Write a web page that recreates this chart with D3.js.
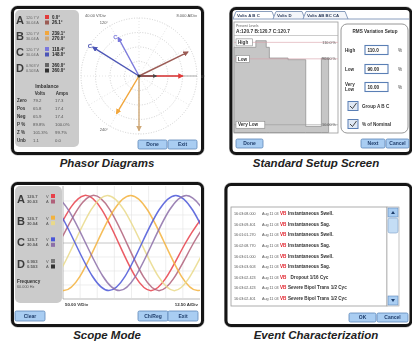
<!DOCTYPE html>
<html><head><meta charset="utf-8">
<script src="https://cdn.jsdelivr.net/npm/d3@7"></script>
<style>body{margin:0;background:#fff}svg{display:block}text{font-family:"Liberation Sans",Arial,sans-serif}</style>
</head><body><svg id="c" width="412" height="342"></svg>
<script>
// ---------- DATA ----------
const panelTitles = ["Phasor Diagrams","Standard Setup Screen","Scope Mode","Event Characterization"];

// Phasor screen
const phasorChannels = ["A","B","C","D"];
const phasorVolts = [120.7,120.7,120.7,0.903];
const phasorAmps = [30.04,30.04,30.04,0.503];
const phasorVoltAngles = [0.0,239.1,118.4,360.0];
const phasorAmpAngles = [26.1,270.0,148.0,360.0];
const voltColors = ["#e23a3a","#f2a63a","#7a78dc","#666"];
const ampColors = ["#9b5b55","#cfa877","#4c55b6","#333"];
const polarRingVolts = [40,80,120,160];
const polarAngleLabels = [0,120,240];
const phasorScaleText = ["40.00 V/Div","8.000 A/Div"];
const imbalanceRows = ["Zero","Pos","Neg","P %","Z %","Unb"];
const imbalanceVolts = ["79.2","65.8","65.9","89.8%","101.3%","1.1"];
const imbalanceAmps = ["17.3","17.4","17.4","100.0%","99.7%","0.0"];

// Setup screen
const setupTabs = ["Volts A B C","Volts D","Volts AB BC CA"];
const presentLevels = "A:120.7  B:120.7  C:120.7";
const profileTime = [0,21,31,34,52,69,84,91];
const profileLevel = [104,112,104,91,89,8,91,91];
const limitNames = ["High","Low","Very Low"];
const limitValues = [110.0,90.00,10.00];
const limitTexts = ["110.0 %","90.00 %","10.00 %"];
const limitInputs = ["110.0","90.00","10.00"];
const checkLabels = ["Group A B C","% of Nominal"];

// Scope screen (key points: zero crossings and peaks)
const scopeNames = ["VA","IA","VB","IB","VC","IC"];
const scopeColors = ["#e8404a","#b0607a","#f3b23c","#e9d98a","#4a56d8","#8c6fa8"];
const scopeUnits = ["V","A","V","A","V","A"];
const scopeTimes = [
  [-5.6,-1.5,2.7,6.9,11.0,15.2,19.4],
  [-4.6,-0.5,3.7,7.9,12.0,16.2,20.4],
  [-4.1,0.1,4.2,8.4,12.6,16.7,20.9],
  [-7.0,-2.8,1.4,5.5,9.7,13.9,18.0,22.2],
  [-6.9,-2.7,1.5,5.7,9.8,14.0,18.2],
  [-5.6,-1.4,2.8,7.0,11.1,15.3,19.5]
];
const scopeValues = [
  [-170,0,170,0,-170,0,170],
  [-42.5,0,42.5,0,-42.5,0,42.5],
  [0,-170,0,170,0,-170,0],
  [0,-42.5,0,42.5,0,-42.5,0,42.5],
  [0,170,0,-170,0,170,0],
  [0,42.5,0,-42.5,0,42.5,0]
];
const scopeChannels = ["A","B","C","D"];
const scopeVolts = ["120.7","120.7","120.7","0.903"];
const scopeAmps = ["30.03","30.04","30.04","0.503"];
const scopeScaleText = ["50.00 V/Div","12.50 A/Div"];
const frequencyText = "60.000 Hz";

// Event screen
const eventTimes = ["16:03:08.000","16:03:09.401","16:01:01.270","16:02:08.770","16:03:01.000","16:03:03.603","16:03:02.423","16:03:02.423","16:03:02.401"];
const eventDates = ["Aug 11 03","Aug 11 03","Aug 11 03","Aug 11 03","Aug 11 03","Aug 11 03","Aug 11 03","Aug 11 03","Aug 11 03"];
const eventChannels = ["VB","VB","VB","VB","VB","VB","VB","VB","VB"];
const eventTypes = ["Instantaneous Swell.","Instantaneous Sag.","Instantaneous Swell.","Instantaneous Sag.","Instantaneous Swell.","Instantaneous Sag.","  Dropout 1/16 Cyc","Severe Bipol Trans 1/2 Cyc","Severe Bipol Trans 1/2 Cyc"];

// ---------- DRAW ----------
const svg = d3.select("#c");
const defs = svg.append("defs");
defs.append("filter").attr("id","soft").attr("x","-5%").attr("y","-5%").attr("width","110%").attr("height","110%")
  .append("feGaussianBlur").attr("stdDeviation",0.3);

function frame(x,y,w,h){
  svg.append("rect").attr("x",x-1.5).attr("y",y-1.5).attr("width",w+3).attr("height",h+3)
    .attr("rx",6).attr("fill","none").attr("stroke","#bdbdbd").attr("stroke-width",1);
  svg.append("rect").attr("x",x).attr("y",y).attr("width",w).attr("height",h)
    .attr("rx",5).attr("fill","#fff").attr("stroke","#151515").attr("stroke-width",3);
}
function button(g,x,y,w,h,label){
  g.append("rect").attr("x",x).attr("y",y).attr("width",w).attr("height",h).attr("rx",1.5)
    .attr("fill","#a9cdf2").attr("stroke","#5d86b8").attr("stroke-width",0.8);
  g.append("text").attr("x",x+w/2).attr("y",y+h/2+1.8).attr("text-anchor","middle")
    .attr("font-size",5).attr("font-weight","bold").attr("fill","#1f3d6b").text(label);
}
function title(x,y,t){
  svg.append("text").attr("x",x).attr("y",y).attr("text-anchor","middle")
    .attr("font-size",11.5).attr("font-weight","bold").attr("font-style","italic")
    .attr("fill","#222").text(t);
}

// ===== Panel 1: Phasor =====
frame(12.5,7.5,190,146);
const p1 = svg.append("g").attr("filter","url(#soft)");
p1.append("rect").attr("x",15).attr("y",10).attr("width",64).attr("height",137).attr("rx",5).attr("fill","#cbcbcb");
const rowY = d3.scalePoint().domain(phasorChannels).range([20,68]);
phasorChannels.forEach((ch,i)=>{
  const y = rowY(ch);
  p1.append("text").attr("x",16).attr("y",y+4).attr("font-size",11).attr("font-weight","bold").attr("fill","#3a3a3a").text(ch);
  p1.append("text").attr("x",26).attr("y",y-1).attr("font-size",3.8).attr("fill","#666").text(phasorVolts[i]+" V");
  p1.append("text").attr("x",26).attr("y",y+4).attr("font-size",3.8).attr("fill","#666").text(phasorAmps[i]+" A");
  p1.append("rect").attr("x",45).attr("y",y-5).attr("width",4).attr("height",4).attr("fill",voltColors[i]);
  p1.append("rect").attr("x",45).attr("y",y+0.5).attr("width",4).attr("height",4).attr("fill",ampColors[i]);
  p1.append("text").attr("x",52).attr("y",y-1).attr("font-size",4.5).attr("font-weight","bold").attr("fill","#222").text(phasorVoltAngles[i].toFixed(1)+"°");
  p1.append("text").attr("x",52).attr("y",y+4).attr("font-size",4.5).attr("font-weight","bold").attr("fill","#222").text(phasorAmpAngles[i].toFixed(1)+"°");
});
p1.append("text").attr("x",47).attr("y",88).attr("text-anchor","middle").attr("font-size",4.8).attr("font-weight","bold").attr("fill","#333").text("Imbalance");
p1.append("text").attr("x",40).attr("y",95).attr("text-anchor","middle").attr("font-size",4.5).attr("font-weight","bold").attr("fill","#333").text("Volts");
p1.append("text").attr("x",62).attr("y",95).attr("text-anchor","middle").attr("font-size",4.5).attr("font-weight","bold").attr("fill","#333").text("Amps");
const imbY = d3.scalePoint().domain(imbalanceRows).range([102,142]);
imbalanceRows.forEach((r,i)=>{
  const y = imbY(r);
  p1.append("text").attr("x",17).attr("y",y).attr("font-size",4.5).attr("font-weight","bold").attr("fill","#333").text(r);
  p1.append("text").attr("x",33).attr("y",y).attr("font-size",4.3).attr("fill","#555").text(imbalanceVolts[i]);
  p1.append("text").attr("x",55).attr("y",y).attr("font-size",4.3).attr("fill","#555").text(imbalanceAmps[i]);
});
// polar
const cx=139, cy=76;
const rV = d3.scaleLinear().domain([0,160]).range([0,58]);
const rA = d3.scaleLinear().domain([0,32]).range([0,58]);
polarRingVolts.forEach(v=>{
  p1.append("circle").attr("cx",cx).attr("cy",cy).attr("r",rV(v)).attr("fill","none")
    .attr("stroke","#c4c4c4").attr("stroke-width",0.8).attr("stroke-dasharray","1,1.6");
});
d3.range(0,360,30).forEach(a=>{
  const t=a*Math.PI/180;
  p1.append("line").attr("x1",cx).attr("y1",cy).attr("x2",cx+rV(160)*Math.cos(t)).attr("y2",cy-rV(160)*Math.sin(t))
    .attr("stroke","#d4d4d4").attr("stroke-width",0.6).attr("stroke-dasharray","1,2");
});
polarAngleLabels.forEach(a=>{
  const t=a*Math.PI/180, r=rV(160)+4;
  p1.append("text").attr("x",cx+r*Math.cos(t)).attr("y",cy-r*Math.sin(t)+1.5)
    .attr("text-anchor",a===0?"start":"end").attr("font-size",4).attr("fill","#555").text(a+"°");
});
p1.append("text").attr("x",85).attr("y",17).attr("font-size",4).attr("fill","#555").text(phasorScaleText[0]);
p1.append("text").attr("x",197).attr("y",17).attr("text-anchor","end").attr("font-size",4).attr("fill","#555").text(phasorScaleText[1]);
function arrowMarker(id,color){
  defs.append("marker").attr("id",id).attr("viewBox","0 0 10 10").attr("refX",8).attr("refY",5)
    .attr("markerWidth",4).attr("markerHeight",4).attr("orient","auto")
    .append("path").attr("d","M0,0L10,5L0,10z").attr("fill",color);
}
function vector(r,angle,color,id,label){
  arrowMarker(id,color);
  const t=angle*Math.PI/180;
  const x2=cx+r*Math.cos(t), y2=cy-r*Math.sin(t);
  p1.append("line").attr("x1",cx).attr("y1",cy).attr("x2",x2).attr("y2",y2)
    .attr("stroke",color).attr("stroke-width",1.4).attr("marker-end",`url(#${id})`);
  if(label){
    p1.append("text").attr("x",x2+ (Math.cos(t)<0?-5:3)).attr("y",y2+1).attr("font-size",6).attr("font-weight","bold").attr("fill",color).text(label);
  }
}
p1.append("line").attr("x1",cx).attr("y1",cy).attr("x2",cx+rV(160)).attr("y2",cy).attr("stroke","#888").attr("stroke-width",0.7);
phasorChannels.forEach((ch,i)=>{
  if(ch==="D") return;
  vector(rV(phasorVolts[i]),phasorVoltAngles[i],voltColors[i],"mv"+i, ch==="C"?ch:null);
  vector(rA(phasorAmps[i]),phasorAmpAngles[i],ampColors[i],"ma"+i, ch==="C"?ch:null);
});
arrowMarker("md","#444");
p1.append("line").attr("x1",cx).attr("y1",cy).attr("x2",cx+rV(48)).attr("y2",cy).attr("stroke","#444").attr("stroke-width",1).attr("marker-end","url(#md)");
p1.append("circle").attr("cx",cx).attr("cy",cy).attr("r",1.6).attr("fill","#333");
button(p1,138,140,29,9,"Done");
button(p1,168,140,29,9,"Exit");
title(107,167,panelTitles[0]);

// ===== Panel 2: Setup =====
frame(231,8.5,180,145);
const p2 = svg.append("g").attr("filter","url(#soft)");
let tx=233;
const tabW=[40,30,43];
setupTabs.forEach((t,i)=>{
  const x0=tx, x1=tx+tabW[i];
  p2.append("path").attr("d",`M${x0},19L${x0+3},11.5L${x1-1},11.5L${x1+2},19`).attr("fill",i===0?"#fff":"#f4f6fa")
    .attr("stroke","#6d86ad").attr("stroke-width",0.8);
  p2.append("text").attr("x",x0+4).attr("y",17).attr("font-size",4.3).attr("font-weight","bold").attr("fill","#2a3a5a").text(t);
  tx=x1;
});
p2.append("line").attr("x1",233).attr("x2",409).attr("y1",19).attr("y2",19).attr("stroke","#6d86ad").attr("stroke-width",0.8);
p2.append("rect").attr("x",234).attr("y",22).attr("width",104).attr("height",111).attr("fill","#fff").attr("stroke","#999").attr("stroke-width",0.8);
p2.append("text").attr("x",236).attr("y",27).attr("font-size",3.4).attr("fill","#666").text("Present Levels");
p2.append("text").attr("x",236).attr("y",33).attr("font-size",4.8).attr("font-weight","bold").attr("fill","#333").text(presentLevels);
p2.append("line").attr("x1",234).attr("x2",338).attr("y1",35.5).attr("y2",35.5).attr("stroke","#aaa").attr("stroke-width",0.6);
const px = d3.scaleLinear().domain([0,100]).range([234,338]);
const py = d3.scaleLinear().domain([0,125]).range([133,30]);
const profile = profileTime.map((t,i)=>({t,v:profileLevel[i]}));
p2.append("path").datum(profile).attr("fill","#c6c6c6").attr("stroke","#8a8a8a").attr("stroke-width",0.7)
  .attr("d",d3.area().x(d=>px(d.t)).y0(py(0)-0.5).y1(d=>py(d.v)).curve(d3.curveStepAfter));
limitValues.forEach((v,i)=>{
  p2.append("line").attr("x1",234).attr("x2",338).attr("y1",py(v)).attr("y2",py(v))
    .attr("stroke",i<2?"#d9a0a8":"#999").attr("stroke-width",0.6);
  p2.append("text").attr("x",336).attr("y",py(v)+1.5).attr("text-anchor","end").attr("font-size",3.8).attr("fill","#555").text(limitTexts[i]);
  const w = limitNames[i].length*3.1+4;
  p2.append("rect").attr("x",236).attr("y",py(v)-3.5).attr("width",w).attr("height",7).attr("fill","#fff").attr("stroke","#888").attr("stroke-width",0.6);
  p2.append("text").attr("x",238).attr("y",py(v)+1.7).attr("font-size",4.6).attr("font-weight","bold").attr("fill","#333").text(limitNames[i]);
});
p2.append("rect").attr("x",341).attr("y",24).attr("width",67).attr("height",109).attr("rx",6).attr("fill","#fff").attr("stroke","#8a8a8a").attr("stroke-width",0.9);
p2.append("text").attr("x",375).attr("y",33).attr("text-anchor","middle").attr("font-size",4.6).attr("font-weight","bold").attr("fill","#333").text("RMS Variation Setup");
const inY=[50,69,87];
limitNames.forEach((n,i)=>{
  const y=inY[i];
  if(n==="Very Low"){
    p2.append("text").attr("x",345).attr("y",y-1).attr("font-size",4.6).attr("font-weight","bold").attr("fill","#333").text("Very");
    p2.append("text").attr("x",345).attr("y",y+4).attr("font-size",4.6).attr("font-weight","bold").attr("fill","#333").text("Low");
  } else {
    p2.append("text").attr("x",345).attr("y",y+1.7).attr("font-size",4.6).attr("font-weight","bold").attr("fill","#333").text(n);
  }
  p2.append("rect").attr("x",365).attr("y",y-4.5).attr("width",23).attr("height",9).attr("fill","#fff").attr("stroke","#5a7fb5").attr("stroke-width",1.1);
  p2.append("text").attr("x",367.5).attr("y",y+1.7).attr("font-size",4.6).attr("font-weight","bold").attr("fill","#222").text(limitInputs[i]);
  p2.append("text").attr("x",398).attr("y",y+1.7).attr("font-size",4.6).attr("fill","#444").text("%");
});
const ckY=[106,124];
checkLabels.forEach((c,i)=>{
  const y=ckY[i];
  p2.append("rect").attr("x",348).attr("y",y-4.5).attr("width",10).attr("height",9).attr("fill","#dfe8f4").attr("stroke","#5a7fb5").attr("stroke-width",1);
  p2.append("path").attr("d",`M350,${y}L352.5,${y+2.5}L356.5,${y-3}`).attr("fill","none").attr("stroke","#333").attr("stroke-width",0.9);
  p2.append("text").attr("x",362).attr("y",y+1.7).attr("font-size",4.6).attr("font-weight","bold").attr("fill","#333").text(c);
});
button(p2,236,139,27,9,"Done");
button(p2,361,139,24,9,"Next");
button(p2,386,139,23,9,"Cancel");
title(316,167,panelTitles[1]);

// ===== Panel 3: Scope =====
frame(12.5,183.5,190,142);
const p3 = svg.append("g").attr("filter","url(#soft)");
p3.append("rect").attr("x",15).attr("y",186).attr("width",47).attr("height",117).attr("rx",5).attr("fill","#cbcbcb");
const sx = d3.scaleLinear().domain([0,17]).range([63,200]);
const syV = d3.scaleLinear().domain([-200,200]).range([299,187]);
const syA = d3.scaleLinear().domain([-50,50]).range([299,187]);
defs.append("clipPath").attr("id","scl").append("rect").attr("x",63).attr("y",186).attr("width",137).attr("height",112);
const grid = p3.append("g");
d3.range(1,8).forEach(i=>{
  grid.append("line").attr("x1",sx(i*17/8)).attr("x2",sx(i*17/8)).attr("y1",186).attr("y2",298).attr("stroke","#e2e2e2").attr("stroke-width",0.6);
});
[-150,-100,-50,50,100,150].forEach(v=>{
  grid.append("line").attr("x1",63).attr("x2",200).attr("y1",syV(v)).attr("y2",syV(v)).attr("stroke","#e2e2e2").attr("stroke-width",0.6);
});
grid.append("line").attr("x1",63).attr("x2",200).attr("y1",syV(0)).attr("y2",syV(0)).attr("stroke","#b8b8b8").attr("stroke-width",0.8);
p3.append("line").attr("x1",63).attr("x2",63).attr("y1",186).attr("y2",299).attr("stroke","#999").attr("stroke-width",0.7);
p3.append("line").attr("x1",63).attr("x2",200).attr("y1",299).attr("y2",299).attr("stroke","#999").attr("stroke-width",0.7);
const traces = p3.append("g").attr("clip-path","url(#scl)");
scopeNames.forEach((n,i)=>{
  const ys = scopeUnits[i]==="V"?syV:syA;
  const pts = scopeTimes[i].map((t,j)=>[t,scopeValues[i][j]]);
  traces.append("path").datum(pts).attr("fill","none").attr("stroke",scopeColors[i]).attr("stroke-width",1.5).attr("stroke-opacity",0.85)
    .attr("d",d3.line().x(d=>sx(d[0])).y(d=>ys(d[1])).curve(d3.curveNatural));
});
const sRow = d3.scalePoint().domain(scopeChannels).range([199,264]);
scopeChannels.forEach((ch,i)=>{
  const y=sRow(ch);
  p3.append("text").attr("x",17).attr("y",y+4).attr("font-size",11).attr("font-weight","bold").attr("fill","#3a3a3a").text(ch);
  p3.append("text").attr("x",27).attr("y",y-1).attr("font-size",4.2).attr("font-weight","bold").attr("fill","#555").text(scopeVolts[i]);
  p3.append("text").attr("x",27).attr("y",y+4).attr("font-size",4.2).attr("font-weight","bold").attr("fill","#555").text(scopeAmps[i]);
  p3.append("text").attr("x",46).attr("y",y-1).attr("font-size",4).attr("fill","#555").text("V");
  p3.append("text").attr("x",46).attr("y",y+4).attr("font-size",4).attr("fill","#555").text("A");
  p3.append("rect").attr("x",51).attr("y",y-5).attr("width",4).attr("height",4).attr("fill",i<3?scopeColors[i*2]:"#777");
  p3.append("rect").attr("x",51).attr("y",y+0.5).attr("width",4).attr("height",4).attr("fill",i<3?scopeColors[i*2+1]:"#333");
});
p3.append("text").attr("x",17).attr("y",283).attr("font-size",4.6).attr("font-weight","bold").attr("fill","#333").text("Frequency");
p3.append("text").attr("x",17).attr("y",288).attr("font-size",3.8).attr("fill","#555").text(frequencyText);
p3.append("text").attr("x",65).attr("y",306).attr("font-size",4.4).attr("font-weight","bold").attr("fill","#333").text(scopeScaleText[0]);
p3.append("text").attr("x",198).attr("y",306).attr("text-anchor","end").attr("font-size",4.4).attr("font-weight","bold").attr("fill","#333").text(scopeScaleText[1]);
button(p3,15,311,30,10,"Clear");
button(p3,138,311,30,10,"Ch/Reg");
button(p3,168,311,30,10,"Exit");
title(107,339,panelTitles[2]);

// ===== Panel 4: Events =====
frame(226,184.5,185,141);
const p4 = svg.append("g").attr("filter","url(#soft)");
p4.append("rect").attr("x",231).attr("y",207).attr("width",156).attr("height",99).attr("fill","#fff").attr("stroke","#9a9a9a").attr("stroke-width",0.8);
p4.append("rect").attr("x",387).attr("y",207).attr("width",12).attr("height",99).attr("fill","#fff").attr("stroke","#9a9a9a").attr("stroke-width",0.6);
p4.append("rect").attr("x",388).attr("y",208).attr("width",10).attr("height",9).attr("fill","#a9cdf2").attr("stroke","#5d86b8").attr("stroke-width",0.6);
p4.append("rect").attr("x",388).attr("y",218).attr("width",10).attr("height",15).attr("rx",2).attr("fill","#c4ddf5").attr("stroke","#7da0c8").attr("stroke-width",0.6);
p4.append("rect").attr("x",388).attr("y",296).attr("width",10).attr("height",9).attr("fill","#a9cdf2").attr("stroke","#5d86b8").attr("stroke-width",0.6);
p4.append("path").attr("d","M391,214L393,211L395,214z").attr("fill","#1f3d6b");
p4.append("path").attr("d","M391,299L393,302L395,299z").attr("fill","#1f3d6b");
const eRow = d3.scalePoint().domain(d3.range(eventTimes.length)).range([215,300]);
eventTimes.forEach((t,i)=>{
  const y=eRow(i);
  p4.append("text").attr("x",234).attr("y",y).attr("font-size",3.7).attr("fill","#555").text(t);
  p4.append("text").attr("x",262).attr("y",y).attr("font-size",3.7).attr("fill","#555").text(eventDates[i]);
  p4.append("text").attr("x",280).attr("y",y).attr("font-size",4.6).attr("font-weight","bold").attr("fill","#e0202a").text(eventChannels[i]);
  p4.append("text").attr("x",288).attr("y",y).attr("font-size",4.6).attr("font-weight","bold").attr("fill","#333").attr("xml:space","preserve").text(eventTypes[i]);
});
button(p4,349,313,27,9,"OK");
button(p4,377,313,31,9,"Cancel");
title(316,339,panelTitles[3]);
</script></body></html>
